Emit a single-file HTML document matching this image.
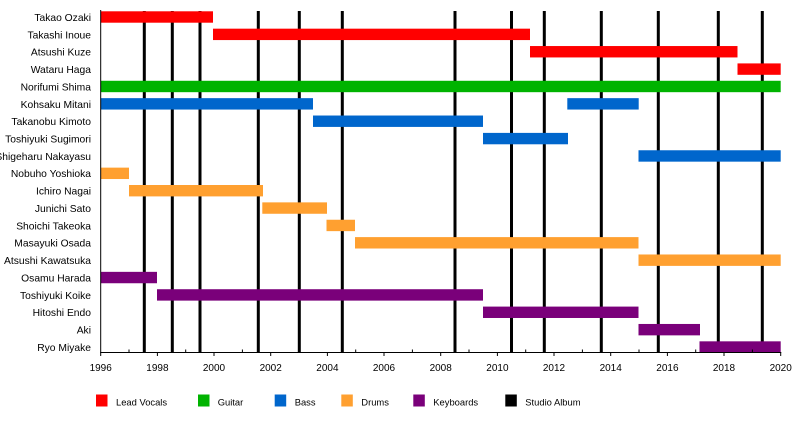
<!DOCTYPE html>
<html>
<head>
<meta charset="utf-8">
<style>
  html,body{margin:0;padding:0;background:#fff;}
  svg{display:block;}
  text{font-family:"Liberation Sans", Arial, sans-serif;fill:#000;}
</style>
</head>
<body>
<svg width="800" height="442" viewBox="0 0 800 442" xmlns="http://www.w3.org/2000/svg">
  <rect x="0" y="0" width="800" height="442" fill="#fff"/>

  <!-- studio album lines -->
  <g fill="#000">
    <rect x="142.8" y="11" width="3" height="341"/>
    <rect x="170.8" y="11" width="3" height="341"/>
    <rect x="198.5" y="11" width="3" height="341"/>
    <rect x="256.8" y="11" width="3" height="341"/>
    <rect x="297.8" y="11" width="3" height="341"/>
    <rect x="340.8" y="11" width="3" height="341"/>
    <rect x="453.5" y="11" width="3" height="341"/>
    <rect x="510" y="11" width="3" height="341"/>
    <rect x="542.8" y="11" width="3" height="341"/>
    <rect x="599.8" y="11" width="3" height="341"/>
    <rect x="656.8" y="11" width="3" height="341"/>
    <rect x="716.8" y="11" width="3" height="341"/>
    <rect x="760.8" y="11" width="3" height="341"/>
  </g>

  <!-- bars -->
  <g>
    <!-- Lead vocals -->
    <rect x="100.7" y="11.3" width="112.3" height="11.4" fill="#ff0000"/>
    <rect x="213" y="28.67" width="317" height="11.4" fill="#ff0000"/>
    <rect x="530" y="46.04" width="207.5" height="11.4" fill="#ff0000"/>
    <rect x="737.5" y="63.41" width="43.2" height="11.4" fill="#ff0000"/>
    <!-- Guitar -->
    <rect x="100.7" y="80.78" width="680" height="11.4" fill="#00b300"/>
    <!-- Bass -->
    <rect x="100.7" y="98.15" width="212.3" height="11.4" fill="#0066cc"/>
    <rect x="567.3" y="98.15" width="71.4" height="11.4" fill="#0066cc"/>
    <rect x="313" y="115.52" width="170" height="11.4" fill="#0066cc"/>
    <rect x="483" y="132.89" width="85" height="11.4" fill="#0066cc"/>
    <rect x="638.5" y="150.26" width="142.2" height="11.4" fill="#0066cc"/>
    <!-- Drums -->
    <rect x="100.7" y="167.63" width="28.3" height="11.4" fill="#ffa030"/>
    <rect x="129" y="185" width="134" height="11.4" fill="#ffa030"/>
    <rect x="262.3" y="202.37" width="64.7" height="11.4" fill="#ffa030"/>
    <rect x="326.5" y="219.74" width="28.5" height="11.4" fill="#ffa030"/>
    <rect x="355" y="237.11" width="283.5" height="11.4" fill="#ffa030"/>
    <rect x="638.5" y="254.48" width="142.2" height="11.4" fill="#ffa030"/>
    <!-- Keyboards -->
    <rect x="100.7" y="271.85" width="56.3" height="11.4" fill="#7a007a"/>
    <rect x="157" y="289.22" width="326" height="11.4" fill="#7a007a"/>
    <rect x="483" y="306.59" width="155.5" height="11.4" fill="#7a007a"/>
    <rect x="638.5" y="323.96" width="61.5" height="11.4" fill="#7a007a"/>
    <rect x="699.5" y="341.33" width="81.2" height="11.4" fill="#7a007a"/>
  </g>

  <!-- axes -->
  <line x1="100.7" y1="10" x2="100.7" y2="352.5" stroke="#000" stroke-width="1"/>
  <line x1="100.2" y1="352.5" x2="781.2" y2="352.5" stroke="#000" stroke-width="1"/>

  <!-- ticks -->
  <g stroke="#000" stroke-width="1">
    <line x1="100.7" y1="352" x2="100.7" y2="356"/>
    <line x1="157.4" y1="352" x2="157.4" y2="356"/>
    <line x1="214" y1="352" x2="214" y2="356"/>
    <line x1="270.7" y1="352" x2="270.7" y2="356"/>
    <line x1="327.4" y1="352" x2="327.4" y2="356"/>
    <line x1="384" y1="352" x2="384" y2="356"/>
    <line x1="440.7" y1="352" x2="440.7" y2="356"/>
    <line x1="497.4" y1="352" x2="497.4" y2="356"/>
    <line x1="554" y1="352" x2="554" y2="356"/>
    <line x1="610.7" y1="352" x2="610.7" y2="356"/>
    <line x1="667.4" y1="352" x2="667.4" y2="356"/>
    <line x1="724" y1="352" x2="724" y2="356"/>
    <line x1="780.7" y1="352" x2="780.7" y2="356"/>

    <line x1="129" y1="349.5" x2="129" y2="352.5"/>
    <line x1="185.7" y1="349.5" x2="185.7" y2="352.5"/>
    <line x1="242.4" y1="349.5" x2="242.4" y2="352.5"/>
    <line x1="299" y1="349.5" x2="299" y2="352.5"/>
    <line x1="355.7" y1="349.5" x2="355.7" y2="352.5"/>
    <line x1="412.4" y1="349.5" x2="412.4" y2="352.5"/>
    <line x1="469" y1="349.5" x2="469" y2="352.5"/>
    <line x1="525.7" y1="349.5" x2="525.7" y2="352.5"/>
    <line x1="582.4" y1="349.5" x2="582.4" y2="352.5"/>
    <line x1="639" y1="349.5" x2="639" y2="352.5"/>
    <line x1="695.7" y1="349.5" x2="695.7" y2="352.5"/>
    <line x1="752.4" y1="349.5" x2="752.4" y2="352.5"/>
  </g>

  <!-- tick labels -->
  <g font-size="10" text-anchor="middle">
    <text x="100.7" y="370.8">1996</text>
    <text x="157.4" y="370.8">1998</text>
    <text x="214" y="370.8">2000</text>
    <text x="270.7" y="370.8">2002</text>
    <text x="327.4" y="370.8">2004</text>
    <text x="384" y="370.8">2006</text>
    <text x="440.7" y="370.8">2008</text>
    <text x="497.4" y="370.8">2010</text>
    <text x="554" y="370.8">2012</text>
    <text x="610.7" y="370.8">2014</text>
    <text x="667.4" y="370.8">2016</text>
    <text x="724" y="370.8">2018</text>
    <text x="780.7" y="370.8">2020</text>
  </g>

  <!-- row labels -->
  <g font-size="10.3" text-anchor="end">
    <text x="91" y="20.9">Takao Ozaki</text>
    <text x="91" y="38.3">Takashi Inoue</text>
    <text x="91" y="55.6">Atsushi Kuze</text>
    <text x="91" y="73">Wataru Haga</text>
    <text x="91" y="90.4">Norifumi Shima</text>
    <text x="91" y="107.8">Kohsaku Mitani</text>
    <text x="91" y="125.1">Takanobu Kimoto</text>
    <text x="91" y="142.5">Toshiyuki Sugimori</text>
    <text x="91" y="159.9">Shigeharu Nakayasu</text>
    <text x="91" y="177.2">Nobuho Yoshioka</text>
    <text x="91" y="194.6">Ichiro Nagai</text>
    <text x="91" y="212">Junichi Sato</text>
    <text x="91" y="229.4">Shoichi Takeoka</text>
    <text x="91" y="246.7">Masayuki Osada</text>
    <text x="91" y="264.1">Atsushi Kawatsuka</text>
    <text x="91" y="281.5">Osamu Harada</text>
    <text x="91" y="298.8">Toshiyuki Koike</text>
    <text x="91" y="316.2">Hitoshi Endo</text>
    <text x="91" y="333.6">Aki</text>
    <text x="91" y="351">Ryo Miyake</text>
  </g>

  <!-- legend -->
  <g>
    <rect x="96" y="394.5" width="11.5" height="12" fill="#ff0000"/>
    <rect x="198" y="394.5" width="11.5" height="12" fill="#00b300"/>
    <rect x="274.7" y="394.5" width="11.5" height="12" fill="#0066cc"/>
    <rect x="341.3" y="394.5" width="11.5" height="12" fill="#ffa030"/>
    <rect x="413.3" y="394.5" width="11.5" height="12" fill="#7a007a"/>
    <rect x="505.3" y="394.5" width="11.5" height="12" fill="#000"/>
  </g>
  <g font-size="9.4">
    <text x="116" y="405.5">Lead Vocals</text>
    <text x="217.7" y="405.5">Guitar</text>
    <text x="294.7" y="405.5">Bass</text>
    <text x="361.3" y="405.5">Drums</text>
    <text x="433.3" y="405.5">Keyboards</text>
    <text x="525.3" y="405.5">Studio Album</text>
  </g>
</svg>
</body>
</html>
